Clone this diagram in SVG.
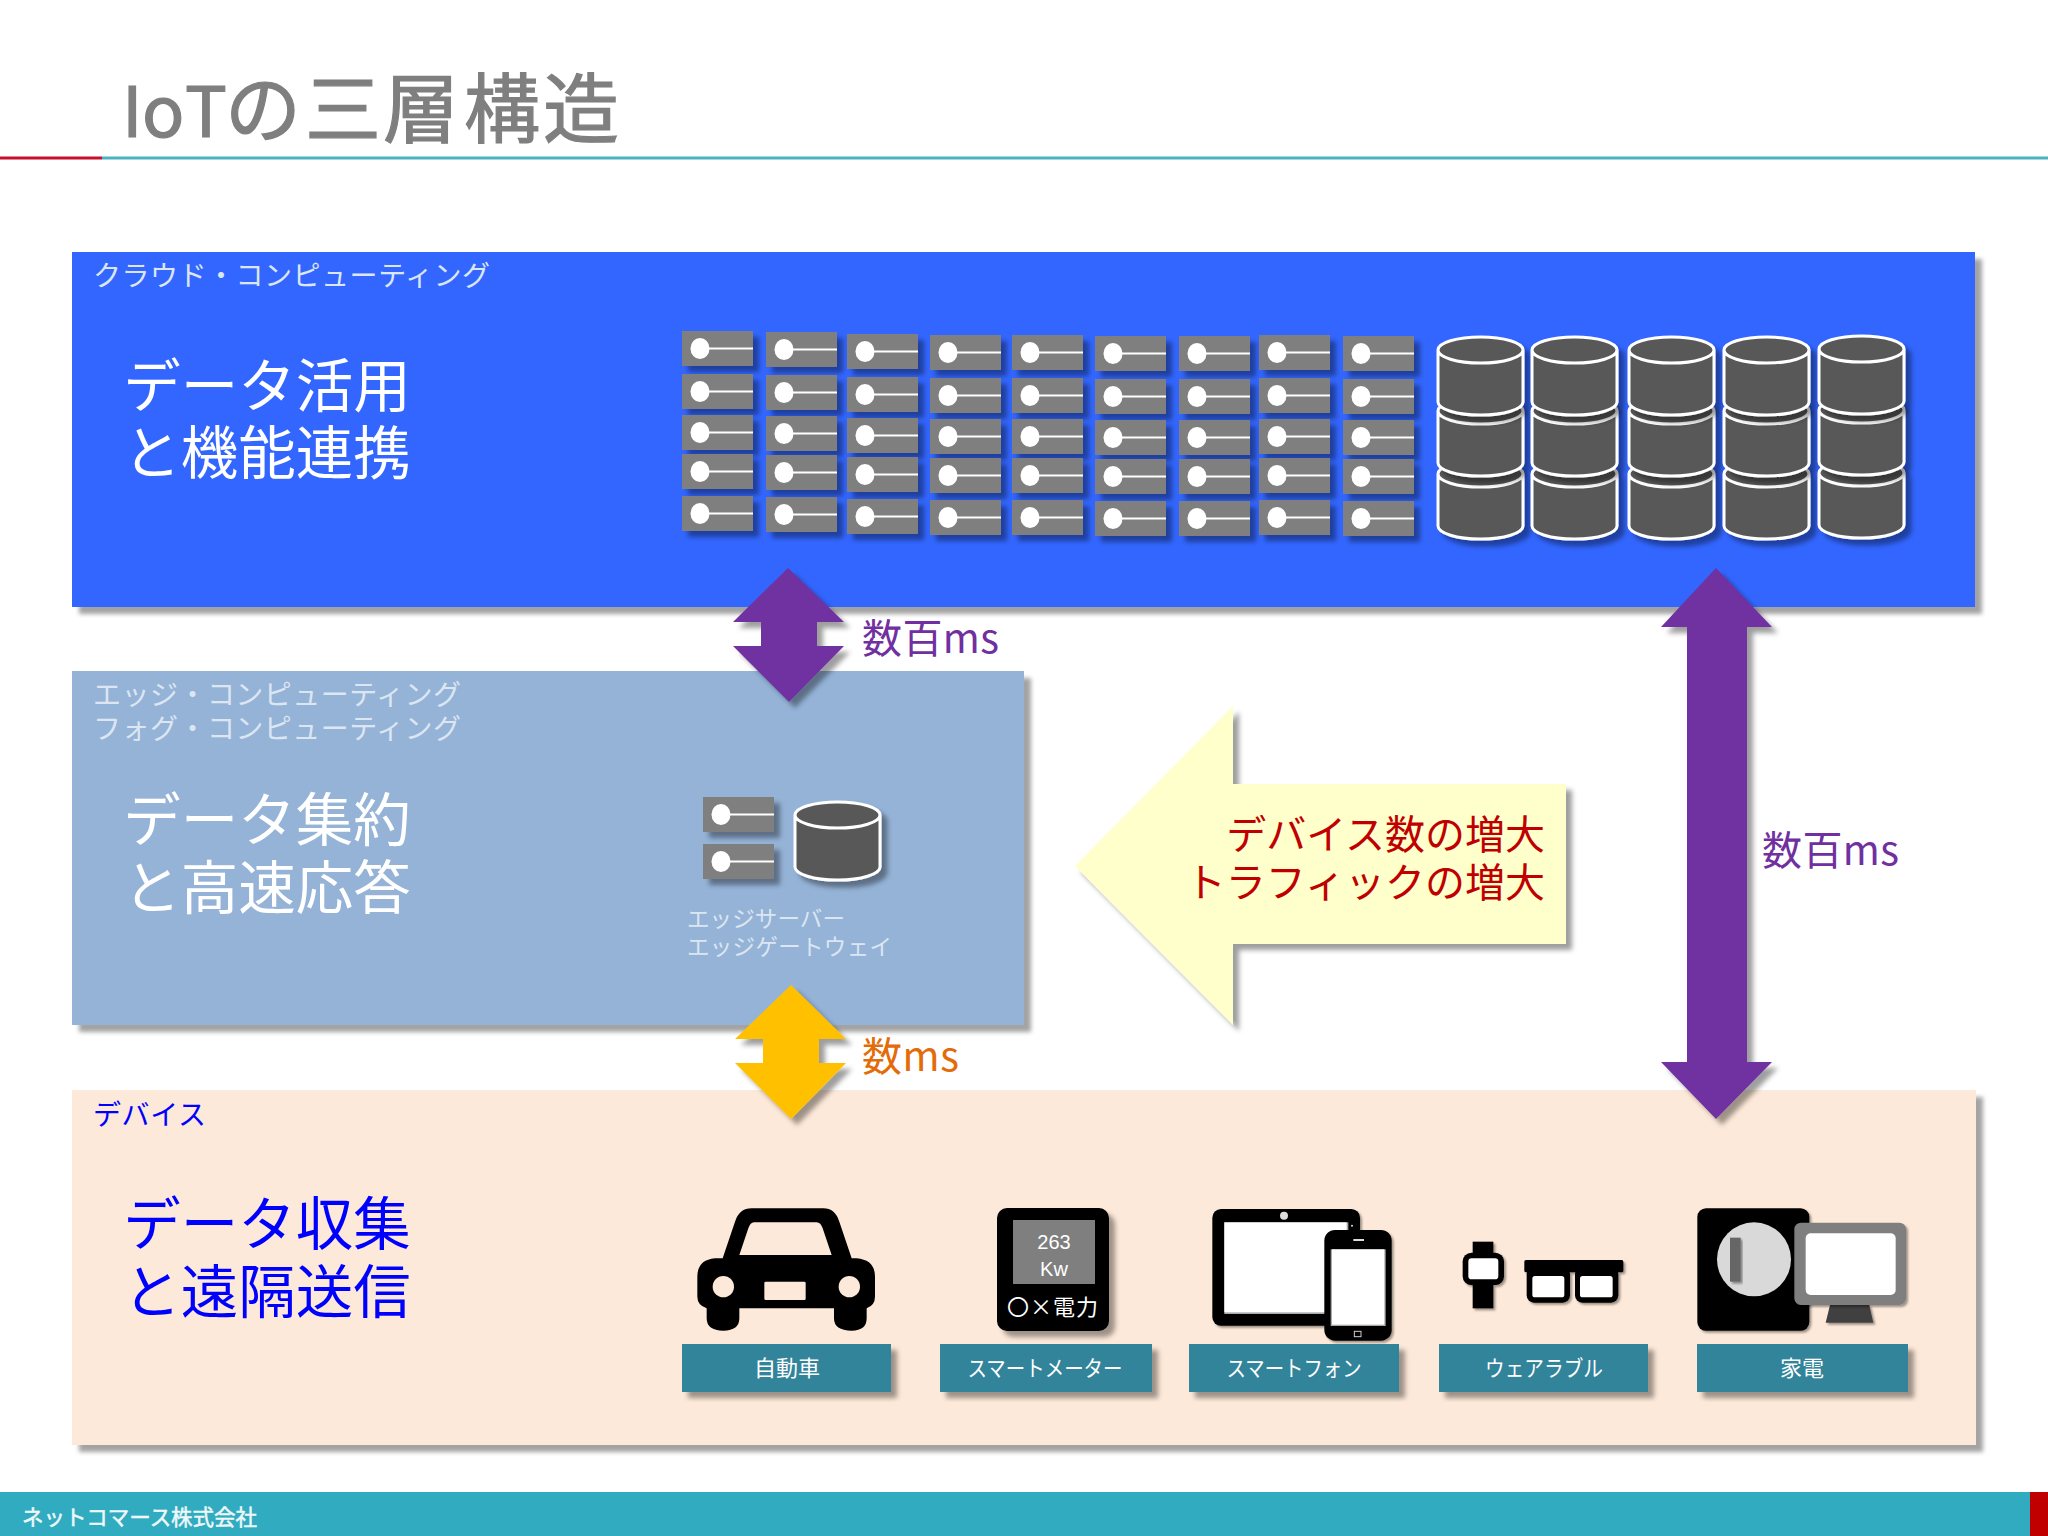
<svg xmlns="http://www.w3.org/2000/svg" xmlns:xlink="http://www.w3.org/1999/xlink" width="2048" height="1536" viewBox="0 0 2048 1536">
<style>
text{font-family:"Noto Sans CJK JP","Noto Sans",sans-serif}
.head{font-size:57.500px;text-anchor:middle}
.tag{font-size:28px}
.w{fill:#fff}
.pale{fill:#dce6f2}
.blue{fill:#0000ff}
.lab{font-size:22px;fill:#fff;text-anchor:middle}
.ms{font-size:40px}
.cap{fill:#31849b;filter:url(#sh)}
.k{fill:#000}
.s{fill:#fff}
</style>
<defs>
<filter id="sh" x="-20%" y="-20%" width="140%" height="140%"><feDropShadow dx="6" dy="6" stdDeviation="2.5" flood-color="#000" flood-opacity=".38"/></filter>
<filter id="panel" x="-2%" y="-2%" width="104%" height="106%"><feDropShadow dx="7" dy="7" stdDeviation="2" flood-color="#000" flood-opacity=".36"/></filter>
<g id="srv"><rect width="71" height="35" fill="#7f7f7f"/><line x1="18" y1="17.500" x2="71" y2="17.500" stroke="#fff" stroke-width="2"/><ellipse cx="18" cy="17.500" rx="9.500" ry="10.500" fill="#fff"/></g>
<path id="cyl" d="M0,0V52A42.500,13 0 0 0 85,52V0A42.500,13 0 0 0 0,0ZM0,0A42.500,13 0 0 0 85,0" fill="#595959" stroke="#fff" stroke-width="3"/>
<g id="stack"><use xlink:href="#cyl" y="124" filter="url(#sh)"/><use xlink:href="#cyl" y="61" filter="url(#sh)"/><use xlink:href="#cyl" filter="url(#sh)"/></g>
<g id="srvcol" filter="url(#sh)"><use xlink:href="#srv"/><use xlink:href="#srv" y="43"/><use xlink:href="#srv" y="84"/><use xlink:href="#srv" y="123"/><use xlink:href="#srv" y="165"/></g>
</defs>
<rect width="2048" height="1536" fill="#fff"/>
<g id="title">
<text y="137" font-size="70" fill="#7f7f7f" stroke="#7f7f7f" stroke-width="1.200"><tspan x="122">I</tspan><tspan x="142">o</tspan><tspan x="185">T</tspan><tspan x="225" font-size="76">の</tspan><tspan x="305" font-size="76">三</tspan><tspan x="383" font-size="76">層</tspan><tspan x="464" font-size="76">構</tspan><tspan x="543" font-size="76">造</tspan></text>
<rect x="0" y="156.500" width="102" height="3" fill="#c8102e"/>
<rect x="102" y="156.500" width="1946" height="3" fill="#4bb3bf"/>
</g>
<g id="cloud">
<rect x="72" y="252" width="1903" height="355" fill="#3366ff" filter="url(#panel)"/>
<text class="tag pale" x="93" y="286" textLength="397">クラウド・コンピューティング</text>
<text class="head w" x="267" y="407">データ活用</text>
<text class="head w" x="267" y="474">と機能連携</text>
<g id="servers">
<use xlink:href="#srvcol" x="682" y="331"/><use xlink:href="#srvcol" x="766" y="332"/><use xlink:href="#srvcol" x="847" y="334"/><use xlink:href="#srvcol" x="930" y="335"/><use xlink:href="#srvcol" x="1012" y="335"/><use xlink:href="#srvcol" x="1095" y="336"/><use xlink:href="#srvcol" x="1179" y="336"/><use xlink:href="#srvcol" x="1259" y="335"/><use xlink:href="#srvcol" x="1343" y="336"/>
</g>
<g id="storage">
<use xlink:href="#stack" x="1438" y="350"/><use xlink:href="#stack" x="1532" y="350"/><use xlink:href="#stack" x="1629" y="350"/><use xlink:href="#stack" x="1724" y="350"/><use xlink:href="#stack" x="1819" y="349"/>
</g>
</g>
<g id="edge">
<rect x="72" y="671" width="952" height="354" fill="#95b3d7" filter="url(#panel)"/>
<text class="tag pale" x="93" y="705" textLength="368">エッジ・コンピューティング</text>
<text class="tag pale" x="93" y="739" textLength="368">フォグ・コンピューティング</text>
<text class="head w" x="267" y="841">データ集約</text>
<text class="head w" x="267" y="909">と高速応答</text>
<g filter="url(#sh)"><use xlink:href="#srv" x="703" y="797"/><use xlink:href="#srv" x="703" y="844"/></g>
<use xlink:href="#cyl" x="795" y="815" filter="url(#sh)"/>
<text class="pale" x="687" y="927" font-size="22.500" textLength="158">エッジサーバー</text>
<text class="pale" x="687" y="955" font-size="22.500" textLength="205">エッジゲートウェイ</text>
</g>
<g id="device">
<rect x="72" y="1090" width="1904" height="355" fill="#fde9d9" filter="url(#panel)"/>
<text class="tag blue" x="93" y="1125" textLength="113">デバイス</text>
<text class="head blue" x="267" y="1245">データ収集</text>
<text class="head blue" x="267" y="1313">と遠隔送信</text>
</g>
<g id="car">
<g transform="translate(680 1190) scale(.33333)">
<path class="k" d="M215,55H430Q465,55 478,95L515,205H530Q585,210 585,260V320Q585,345 560,355V385Q560,422 515,422Q462,422 462,385V355H178V385Q178,422 130,422Q80,422 80,385V355Q52,345 52,320V260Q52,210 105,205H128L165,95Q178,55 215,55Z"/>
<path fill="#fde9d9" d="M222,97H410Q422,97 428,115L455,195H178L205,115Q211,97 222,97Z"/>
<circle cx="130" cy="290" r="32" fill="#fde9d9"/><circle cx="508" cy="290" r="32" fill="#fde9d9"/>
<rect x="253" y="275" width="124" height="55" rx="4" fill="#fde9d9"/>
</g>
<rect class="cap" x="682" y="1344" width="209" height="48"/>
<text class="lab" x="787" y="1376">自動車</text>
</g>
<g id="meter">
<rect x="997" y="1208" width="112" height="123" rx="10" class="k" filter="url(#sh)"/>
<rect x="1013" y="1220" width="82" height="64" fill="#7f7f7f"/>
<text x="1054" y="1249" font-size="20" fill="#fff" text-anchor="middle" style="font-family:'Liberation Sans',sans-serif">263</text>
<text x="1054" y="1276" font-size="20" fill="#fff" text-anchor="middle" style="font-family:'Liberation Sans',sans-serif">Kw</text>
<text y="1315" font-size="22" fill="#fff"><tspan x="1007">〇</tspan><tspan x="1030">×</tspan><tspan x="1053">電</tspan><tspan x="1076">力</tspan></text>
<rect class="cap" x="940" y="1344" width="212" height="48"/>
<text class="lab" x="1045" y="1376" textLength="155" lengthAdjust="spacingAndGlyphs">スマートメーター</text>
</g>
<g id="phone">
<g transform="translate(1190 1190) scale(.33333)">
<rect x="67" y="57" width="443" height="350" rx="26" class="k" filter="url(#sh)"/>
<rect x="103" y="97" width="372" height="275" fill="#aaa"/>
<rect x="103" y="97" width="367" height="270" fill="#fff"/>
<circle cx="282" cy="77" r="12" fill="#ddd"/>
<circle cx="486" cy="107" r="3" fill="#ddd"/>
<rect x="403" y="120" width="202" height="332" rx="32" class="k" filter="url(#sh)"/>
<rect x="422" y="178" width="165" height="230" fill="#aaa"/>
<rect x="426" y="178" width="157" height="226" fill="#fff"/>
<rect x="490" y="147" width="32" height="6" fill="#ddd"/>
<rect x="493" y="424" width="20" height="16" fill="none" stroke="#ccc" stroke-width="3"/>
</g>
<rect class="cap" x="1189" y="1344" width="210" height="48"/>
<text class="lab" x="1294" y="1376" textLength="135" lengthAdjust="spacingAndGlyphs">スマートフォン</text>
</g>
<g id="wearable">
<g transform="translate(1190 1190) scale(.33333)">
<g filter="url(#sh)">
<rect x="848" y="155" width="62" height="200" class="k"/>
<rect x="818" y="188" width="124" height="97" rx="26" class="k"/>
</g>
<rect x="835" y="205" width="90" height="63" rx="10" class="s"/>
<g filter="url(#sh)">
<rect x="1010" y="230" width="130" height="108" rx="22" class="k"/>
<rect x="1155" y="230" width="130" height="108" rx="22" class="k"/>
<rect x="1003" y="210" width="297" height="37" rx="5" class="k"/>
</g>
<rect x="1027" y="258" width="96" height="64" rx="8" class="s"/>
<rect x="1170" y="258" width="98" height="64" rx="8" class="s"/>
</g>
<rect class="cap" x="1439" y="1344" width="209" height="48"/>
<text class="lab" x="1544" y="1376" textLength="118" lengthAdjust="spacingAndGlyphs">ウェアラブル</text>
</g>
<g id="appliance">
<g transform="translate(1680 1190) scale(.33333)">
<rect x="52" y="55" width="336" height="367" rx="26" class="k" filter="url(#sh)"/>
<circle cx="222" cy="208" r="111" fill="#d9d9d9"/>
<rect x="150" y="143" width="32" height="132" fill="#666" filter="url(#sh)"/>
<path d="M450,345H568L580,398H437Z" fill="#404040" filter="url(#sh)"/>
<rect x="343" y="98" width="335" height="247" rx="20" fill="#7f7f7f" filter="url(#sh)"/>
<rect x="377" y="130" width="270" height="185" rx="15" class="s"/>
</g>
<rect class="cap" x="1697" y="1344" width="211" height="48"/>
<text class="lab" x="1802" y="1376">家電</text>
</g>
<g id="connectors">
<path d="M788,568L844,622H817V646H844L789,702L733,646H761V622H733Z" fill="#7030a0" filter="url(#sh)"/>
<path d="M791,985L846,1039H819V1063H846L791,1119L735,1063H763V1039H735Z" fill="#ffc000" filter="url(#sh)"/>
<path d="M1716,568L1772,627H1747V1062H1772L1716,1119L1661,1062H1687V627H1661Z" fill="#7030a0" filter="url(#sh)"/>
</g>
<g id="latency">
<text class="ms" x="862" y="653" fill="#7030a0" textLength="137">数百ms</text>
<text class="ms" x="862" y="1071" fill="#e36c09" textLength="97">数ms</text>
<text class="ms" x="1762" y="865" fill="#7030a0" textLength="137">数百ms</text>
</g>
<g id="growth">
<path d="M1075,866L1233,706V784H1566V944H1233V1025Z" fill="#ffffcc" filter="url(#sh)"/>
<text x="1545" y="849" font-size="40" fill="#c00000" text-anchor="end">デバイス数の増大</text>
<text x="1545" y="897" font-size="40" fill="#c00000" text-anchor="end">トラフィックの増大</text>
</g>
<g id="footer">
<rect x="0" y="1492" width="2048" height="44" fill="#31abbf"/>
<rect x="2030" y="1492" width="18" height="44" fill="#c00000"/>
<text x="22" y="1525" font-size="21.500" fill="#eef8fa" stroke="#eef8fa" stroke-width=".5" textLength="235">ネットコマース株式会社</text>
</g>
</svg>
